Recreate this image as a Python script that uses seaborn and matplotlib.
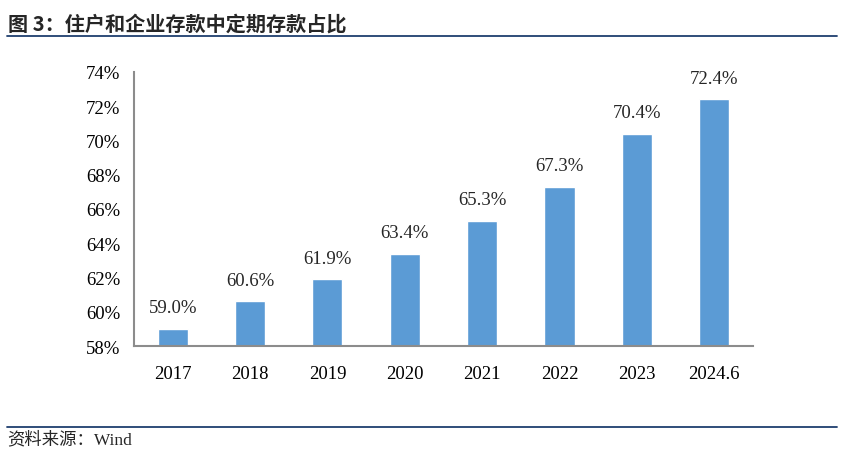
import matplotlib
matplotlib.use("Agg")
import matplotlib.pyplot as plt
import seaborn as sns
import pandas as pd
from matplotlib.lines import Line2D

categories = ["2017", "2018", "2019", "2020", "2021", "2022", "2023", "2024.6"]
values = [59.0, 60.6, 61.9, 63.4, 65.3, 67.3, 70.4, 72.4]
yticks = [58, 60, 62, 64, 66, 68, 70, 72, 74]
ytick_labels = ["58%", "60%", "62%", "64%", "66%", "68%", "70%", "72%", "74%"]
title = "图 3：住户和企业存款中定期存款占比"
source = "资料来源：Wind"

df = pd.DataFrame({"cat": categories, "val": values})

sns.set_style("white")
plt.rcParams["font.family"] = ["Liberation Serif", "Noto Sans CJK SC"]
plt.rcParams["font.serif"] = ["Liberation Serif"]

fig = plt.figure(figsize=(8.43, 4.56), dpi=100)
ax = fig.add_axes([0.159, 0.239, 0.734, 0.601])

sns.barplot(data=df, x="cat", y="val", color="#5B9BD5", saturation=1,
            width=0.39, ax=ax)

serif = ["Liberation Serif"]
ax.set_ylim(58, 74)
ax.set_xlim(-0.5, len(categories) - 0.5)
ax.set_xlabel("")
ax.set_ylabel("")

ax.tick_params(axis="x", which="major", length=0, pad=14, colors="black")
ax.set_xticks([i - 0.5 for i in range(len(categories) + 1)], minor=True)
ax.tick_params(axis="x", which="minor", length=6, width=1.2, color="#8c8c8c", direction="out")
ax.tick_params(axis="y", length=6, width=1.2, color="#8c8c8c", direction="out",
               labelcolor="black", pad=4)

ax.set_xticks(list(range(len(categories))))
ax.set_xticklabels(categories)
ax.set_yticks(yticks)
ax.set_yticklabels(ytick_labels)

for s in ["top", "right"]:
    ax.spines[s].set_visible(False)
for s in ["left", "bottom"]:
    ax.spines[s].set_color("#8c8c8c")
    ax.spines[s].set_linewidth(1.5)

for i, v in enumerate(values):
    ax.annotate(f"{v:.1f}%", (i, v), xytext=(0, 9), textcoords="offset points",
                ha="center", va="bottom", fontsize=13.5, family=serif)

fig.text(0.009, 0.948, title, fontsize=14.5, fontweight="bold",
         family=["Noto Sans CJK SC", "DejaVu Sans"], va="center", ha="left")
fig.text(0.009, 0.035, source, fontsize=12.5,
         family=["Liberation Serif", "Noto Sans CJK SC"], va="center", ha="left")

fig.add_artist(Line2D([0.008, 0.993], [1 - 37 / 456, 1 - 37 / 456],
                      color="#1F3F6E", lw=1.3, transform=fig.transFigure))
fig.add_artist(Line2D([0.008, 0.993], [1 - 428 / 456, 1 - 428 / 456],
                      color="#1F3F6E", lw=1.3, transform=fig.transFigure))

for lab in ax.get_yticklabels() + ax.get_xticklabels():
    lab.set_fontfamily("Liberation Serif")
    lab.set_fontsize(13.5)

fig.savefig("out.png", dpi=100)
